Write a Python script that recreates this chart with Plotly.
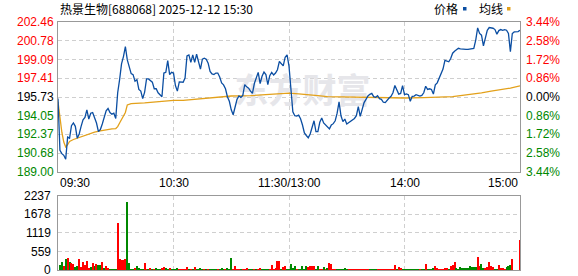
import plotly.graph_objects as go

title_text = "热景生物[688068] 2025-12-12 15:30"
pre_close = 195.73
price_ticks = [189.00, 190.68, 192.37, 194.05, 195.73, 197.41, 199.09, 200.78, 202.46]
pct_labels = ["3.44%", "2.58%", "1.72%", "0.86%", "0.00%", "0.86%", "1.72%", "2.58%", "3.44%"]
vol_ticks = [0, 559, 1119, 1678, 2237]
time_labels = ["09:30", "10:30", "11:30/13:00", "14:00", "15:00"]
time_pos = [0, 60, 120, 180, 240]

price = [
    195.6, 190.95, 190.65, 190.5, 190.15, 192.13, 192.04, 193.16, 193.4, 193.1,
    192.04, 192.42, 193.1, 193.69, 193.9, 194.58, 193.75, 194.28, 194.34, 193.9,
    193.4, 192.63, 192.81, 193.31, 193.99, 194.49, 194.7, 194.34, 194.19, 194.28,
    193.81, 196.11, 197.29, 198.71, 199.36, 200.25, 199.06, 198.42, 197.83, 197.74,
    197.15, 197.29, 196.41, 196.26, 195.58, 196.17, 197.35, 197.35, 197.2, 197.06,
    196.47, 196.47, 196.11, 195.97, 195.76, 197.88, 197.94, 199.0, 197.74, 197.94,
    197.88,
    196.76, 196.26, 197.09, 197.09, 197.06, 197.44, 199.42, 199.51, 198.83, 199.51,
    198.83, 199.57, 199.01, 198.24, 199.13, 199.21, 199.13, 198.77, 198.03, 197.8,
    197.74, 197.88, 197.88, 197.53, 197.0, 196.82, 196.47, 195.76, 195.35, 194.58,
    194.14, 194.79, 195.52, 195.82, 195.7, 195.88, 196.85, 196.64, 196.53, 196.26,
    196.05, 196.94, 197.44, 197.94, 196.94, 197.59, 197.97, 197.74, 196.85, 197.65,
    197.94, 197.71, 197.88, 198.18, 198.92, 198.71, 198.53, 199.3, 199.51, 198.5,
    196.2, 194.4, 194.05, 194.02, 194.11, 193.78, 193.22, 192.51, 192.28, 192.07,
    192.42, 193.1, 193.6, 192.63, 192.63, 193.46, 193.84, 193.4, 193.22, 193.01,
    192.87, 193.22, 193.34, 193.6, 194.28, 195.29, 194.05, 193.52, 193.75, 193.31,
    193.43, 193.52, 193.69, 193.81, 194.05, 194.87, 193.99, 194.64, 195.23, 195.52,
    195.82, 195.97, 196.05, 195.76, 195.7, 195.85, 195.58, 195.52, 195.26, 195.23,
    195.49, 195.64, 195.79, 196.11, 196.76, 196.41, 195.99, 196.05, 196.76, 195.94,
    196.0, 195.94, 195.35, 195.79, 195.82, 195.94, 195.88, 195.82, 195.88, 196.11,
    196.70, 196.41, 196.47, 196.41, 196.0, 196.82, 197.0, 197.38, 197.83, 198.24,
    199.01, 198.92, 198.89, 199.18, 199.66, 199.83, 199.95, 200.1, 200.04, 200.01,
    200.01, 200.01, 200.01, 200.04, 200.07, 200.1, 200.84, 201.93, 201.43, 201.28,
    200.31, 200.98, 201.72, 201.96, 201.93, 201.9, 201.78, 201.37, 201.69, 201.78,
    201.72, 201.78, 201.72, 201.43, 199.8, 201.43, 201.57, 201.57, 201.6, 201.72,
]

avg_minutes = [0, 1, 2, 3, 4, 5, 6, 8, 10, 13, 16, 19, 22, 25, 28, 30, 31, 32, 33, 34, 35, 36, 38,
               45, 50, 55, 60, 65, 70, 75, 80, 90, 100, 110, 115, 120, 125, 130, 135, 140,
               150, 160, 170, 180, 190, 200, 205, 210, 215, 220, 225, 230, 235, 240]
avg_price = [195.3, 193.75, 192.57, 191.69, 191.24, 191.45, 191.75, 191.92, 192.04, 192.22,
             192.39, 192.57, 192.69, 192.81, 192.87, 192.9, 193.07, 193.4, 193.69, 193.99,
             194.34, 195.02, 195.14,
             195.2, 195.29, 195.35, 195.43, 195.43, 195.52, 195.61, 195.7, 195.82, 195.85,
             195.94, 196.02, 196.08, 196.02, 195.91, 195.85, 195.76,
             195.73, 195.67, 195.61, 195.64, 195.67, 195.7, 195.76, 195.88, 195.97, 196.11,
             196.26, 196.38, 196.53, 196.73]

volume = [
    0, 151, 232, 131, 333, 363, 242, 212, 181, 91,
    121, 333, 100, 242, 161, 272, 71, 100, 202, 121,
    181, 161, 151, 242, 40, 121, 60, 30, 30, 30,
    30, 1421, 333, 302, 302, 333, 2056, 202, 30, 30,
    71, 121, 60, 30, 30, 202, 30, 30, 50, 30,
    30, 50, 30, 30, 50, 81, 60, 30, 60, 30,
    30, 30, 50, 30, 30, 30, 30, 91, 30, 30,
    30, 91, 30, 30, 60, 30, 30, 30, 30, 30,
    30, 30, 30, 30, 30, 60, 30, 30, 60, 30,
    363, 30, 121, 30, 30, 30, 30, 30, 60, 30,
    30, 30, 30, 30, 30, 60, 30, 30, 30, 30,
    30, 151, 30, 60, 272, 272, 30, 91, 121, 30,
    30, 181, 60, 121, 30, 30, 30, 121, 30, 121,
    91, 121, 121, 121, 30, 121, 30, 30, 91, 30,
    60, 212, 181, 30, 30, 30, 30, 30, 30, 60,
    30, 30, 30, 30, 30, 30, 30, 30, 30, 30,
    30, 30, 30, 30, 30, 30, 30, 30, 30, 30,
    30, 30, 30, 30, 30, 151, 30, 91, 60, 30,
    30, 30, 30, 30, 30, 30, 30, 30, 30, 30,
    30, 181, 30, 30, 30, 60, 121, 60, 30, 30,
    30, 60, 60, 30, 121, 151, 242, 60, 30, 91,
    60, 60, 60, 60, 121, 91, 91, 91, 393, 121,
    181, 60, 60, 91, 242, 121, 91, 30, 30, 151,
    60, 60, 30, 91, 121, 151, 333, 0, 0, 0,
    907,
]

vol_up = [
    0, 0, 0, 1, 0, 1, 0, 1, 1, 0,
    0, 1, 1, 1, 1, 1, 1, 0, 1, 0,
    1, 0, 0, 1, 0, 1, 1, 0, 0, 0,
    0, 1, 1, 1, 1, 1, 0, 0, 0, 0,
    1, 0, 0, 0, 0, 1, 1, 0, 1, 0,
    1, 0, 0, 0, 1, 1, 0, 0, 1, 0,
    0, 0, 0, 1, 1, 1, 1, 1, 0, 1,
    0, 1, 0, 0, 0, 0, 1, 0, 1, 0,
    0, 0, 0, 1, 0, 0, 0, 1, 0, 0,
    0, 1, 1, 1, 1, 0, 1, 1, 1, 0,
    0, 0, 1, 0, 1, 1, 0, 0, 0, 0,
    1, 1, 1, 1, 1, 1, 0, 1, 1, 0,
    0, 0, 0, 0, 1, 0, 0, 0, 0, 0,
    1, 1, 1, 1, 0, 0, 1, 1, 0, 1,
    0, 1, 1, 1, 1, 0, 0, 0, 0, 0,
    0, 1, 1, 1, 1, 1, 1, 1, 1, 1,
    1, 1, 0, 0, 0, 0, 1, 1, 1, 1,
    1, 1, 1, 1, 1, 1, 0, 1, 1, 0,
    0, 0, 0, 0, 0, 0, 0, 0, 1, 0,
    0, 1, 0, 0, 0, 0, 1, 1, 1, 1,
    1, 1, 1, 0, 1, 1, 1, 0, 0, 0,
    0, 0, 0, 0, 0, 0, 0, 0, 1, 1,
    0, 0, 1, 1, 1, 1, 1, 0, 0, 1,
    1, 1, 1, 0, 0, 0, 1, 0, 0, 0,
    1,
]

minutes = list(range(len(price)))

RED = "#FF0000"
GREEN = "#008800"
BLUE = "#0B4EA2"
GOLD = "#E3A11B"
GRID = "#cfcfcf"
BORDER = "#999999"
NUM_FONT = "Liberation Sans"
CJK_FONT = "Noto Sans CJK SC"

fig = go.Figure()

# watermark (drawn first so it sits beneath the lines)
fig.add_trace(go.Scatter(
    x=[127], y=[195.97], mode="text", text=["东方财富"],
    textfont=dict(family=CJK_FONT, size=34, color="#e6e6ea", weight="bold"),
    hoverinfo="skip", showlegend=False, xaxis="x", yaxis="y"))

fig.add_trace(go.Scatter(
    x=avg_minutes, y=avg_price, mode="lines",
    line=dict(color=GOLD, width=1.3), hoverinfo="skip", showlegend=False,
    xaxis="x", yaxis="y"))

fig.add_trace(go.Scatter(
    x=minutes, y=price, mode="lines",
    line=dict(color=BLUE, width=1.3), hoverinfo="skip", showlegend=False,
    xaxis="x", yaxis="y"))

bar_colors = [RED if u else GREEN for u in vol_up]
fig.add_trace(go.Bar(
    x=minutes, y=volume, marker=dict(color=bar_colors, line=dict(width=0)),
    width=0.55, hoverinfo="skip", showlegend=False, xaxis="x2", yaxis="y2"))

axis_common = dict(showgrid=True, gridcolor=GRID, griddash="4px,3px", gridwidth=1,
                   zeroline=False, showline=True, mirror=True, linecolor=BORDER,
                   linewidth=1, ticks="", showticklabels=False, fixedrange=True)

fig.update_layout(
    width=578, height=276,
    margin=dict(l=58, r=58, t=22, b=6, pad=0),
    paper_bgcolor="white", plot_bgcolor="white",
    showlegend=False, bargap=0,
    xaxis=dict(domain=[0, 1], range=[0, 240], tickvals=[60, 120, 180], anchor="y", **axis_common),
    yaxis=dict(domain=[0.395, 1], range=[price_ticks[0], price_ticks[-1]],
               tickvals=price_ticks[1:-1], anchor="x", **axis_common),
    xaxis2=dict(domain=[0, 1], range=[0, 240], tickvals=[60, 120, 180], anchor="y2", **axis_common),
    yaxis2=dict(domain=[0, 0.2984], range=[vol_ticks[0], vol_ticks[-1]],
                tickvals=vol_ticks[1:-1], anchor="x2", **axis_common),
)

ann = []
for v, p in zip(price_ticks, pct_labels):
    col = RED if v > pre_close else (GREEN if v < pre_close else "#000000")
    ann.append(dict(x=0, xref="paper", y=v, yref="y", text=f"{v:.2f}", showarrow=False,
                    xanchor="right", yanchor="middle", xshift=-2,
                    font=dict(family=NUM_FONT, size=12, color=col)))
    ann.append(dict(x=1, xref="paper", y=v, yref="y", text=p, showarrow=False,
                    xanchor="left", yanchor="middle", xshift=4,
                    font=dict(family=NUM_FONT, size=12, color=col)))

for v in vol_ticks:
    ann.append(dict(x=0, xref="paper", y=v, yref="y2", text=str(v), showarrow=False,
                    xanchor="right", yanchor="middle", xshift=-5,
                    font=dict(family=NUM_FONT, size=12, color="#000000")))

anchors = ["left", "center", "center", "center", "right"]
for t, pos, a in zip(time_labels, time_pos, anchors):
    ann.append(dict(x=pos, xref="x", y=0.3508, yref="paper", text=t, showarrow=False,
                    xanchor=a, yanchor="middle",
                    font=dict(family=NUM_FONT, size=12, color="#000000")))

ann.append(dict(x=0, xref="paper", y=1.054, yref="paper", text=title_text, showarrow=False,
                xanchor="left", yanchor="middle",
                font=dict(family=CJK_FONT, size=12, color="#000000")))
ann.append(dict(x=0.8089, xref="paper", y=1.054, yref="paper", text="价格", showarrow=False,
                xanchor="left", yanchor="middle",
                font=dict(family=CJK_FONT, size=12, color="#000000")))
ann.append(dict(x=0.9063, xref="paper", y=1.054, yref="paper", text="均线", showarrow=False,
                xanchor="left", yanchor="middle",
                font=dict(family=CJK_FONT, size=12, color="#000000")))
fig.update_layout(annotations=ann)

fig.add_shape(type="rect", xref="paper", yref="paper", x0=0.8766, x1=0.8842, y0=1.0464, y1=1.0605,
              fillcolor=BLUE, line=dict(width=0))
fig.add_shape(type="rect", xref="paper", yref="paper", x0=0.9719, x1=0.9794, y0=1.0464, y1=1.0605,
              fillcolor=GOLD, line=dict(width=0))

fig.write_html("out.html", config={"displayModeBar": False})
